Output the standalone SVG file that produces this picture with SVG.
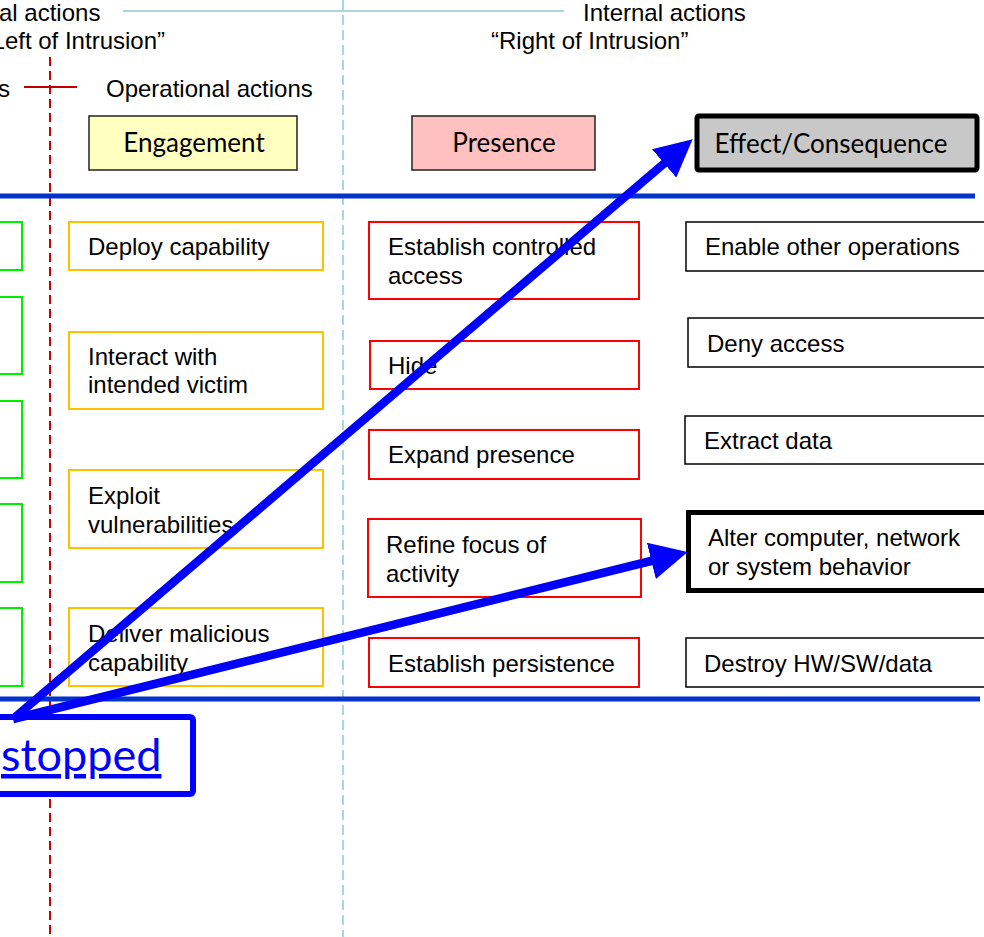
<svg xmlns="http://www.w3.org/2000/svg" width="984" height="937" viewBox="0 0 984 937">
<style>
.t{font-family:"Liberation Sans",Arial,sans-serif;font-size:24px;fill:#000}
.h{font-family:Lato,"Open Sans",sans-serif;font-size:26px;fill:#000;text-anchor:middle}
.g{fill:#fff;stroke:#00ee00;stroke-width:2}
.o{fill:#fff;stroke:#ffc000;stroke-width:2}
.r{fill:#fff;stroke:#ff0000;stroke-width:2}
.k{fill:#fff;stroke:#000;stroke-width:1.5}
.arr{fill:none;stroke:#0000ff;stroke-width:8.5;marker-end:url(#ah)}
</style>
<defs>
<marker id="ah" viewBox="0 0 10 10" refX="1" refY="5" markerWidth="4.4" markerHeight="4.4" markerUnits="strokeWidth" orient="auto">
<path d="M0,0 L10,5 L0,10 z" fill="#0000ff"/>
</marker>
</defs>
<rect width="984" height="937" fill="#fff"/>

<g id="guides">
<line x1="343" y1="0" x2="343" y2="937" stroke="#a9d7df" stroke-width="2" stroke-dasharray="10,5"/>
<line x1="50" y1="57" x2="50" y2="937" stroke="#cc0000" stroke-width="2" stroke-dasharray="9,5"/>
<line x1="123" y1="11" x2="564" y2="11" stroke="#a9d7df" stroke-width="2"/>
<line x1="24" y1="87" x2="77" y2="87" stroke="#c00000" stroke-width="2"/>
<line x1="0" y1="196" x2="975" y2="196" stroke="#0033cc" stroke-width="5"/>
<line x1="0" y1="699" x2="980" y2="699" stroke="#0033cc" stroke-width="5"/>
</g>

<g id="labels">
<text class="t" x="-1" y="21">al actions</text>
<text class="t" x="165" y="49" text-anchor="end">“Left of Intrusion”</text>
<text class="t" x="10" y="97" text-anchor="end">s</text>
<text class="t" x="106" y="97">Operational actions</text>
<text class="t" x="583" y="21">Internal actions</text>
<text class="t" x="491" y="49">“Right of Intrusion”</text>
</g>

<g id="hdr-engagement">
<rect x="89" y="116" width="208" height="54" fill="#ffffc0" stroke="#222" stroke-width="1.5"/>
<text class="h" x="194" y="152">Engagement</text>
</g>
<g id="hdr-presence">
<rect x="412" y="116" width="183" height="54" fill="#ffc0c0" stroke="#222" stroke-width="1.5"/>
<text class="h" x="504" y="152">Presence</text>
</g>
<g id="hdr-effect">
<rect x="697" y="116" width="280" height="54" rx="2" fill="#c8c8c8" stroke="#000" stroke-width="5"/>
<text class="h" x="831" y="153">Effect/Consequence</text>
</g>

<g id="prep-1"><rect class="g" x="-30" y="222" width="52" height="48"/></g>
<g id="prep-2"><rect class="g" x="-30" y="297" width="52" height="77"/></g>
<g id="prep-3"><rect class="g" x="-30" y="401" width="52" height="77"/></g>
<g id="prep-4"><rect class="g" x="-30" y="504" width="52" height="78"/></g>
<g id="prep-5"><rect class="g" x="-30" y="608" width="52" height="78"/></g>

<g id="eng-deploy"><rect class="o" x="69" y="222" width="254" height="48"/><text class="t" x="88" y="255">Deploy capability</text></g>
<g id="eng-interact"><rect class="o" x="69" y="332" width="254" height="77"/><text class="t" x="88" y="365">Interact with<tspan x="88" y="393">intended victim</tspan></text></g>
<g id="eng-exploit"><rect class="o" x="69" y="470" width="254" height="78"/><text class="t" x="88" y="504">Exploit<tspan x="88" y="533">vulnerabilities</tspan></text></g>
<g id="eng-deliver"><rect class="o" x="69" y="608" width="254" height="78"/><text class="t" x="88" y="642">Deliver malicious<tspan x="88" y="671">capability</tspan></text></g>

<g id="pres-access"><rect class="r" x="369" y="222" width="270" height="77"/><text class="t" x="388" y="255">Establish controlled<tspan x="388" y="284">access</tspan></text></g>
<g id="pres-hide"><rect class="r" x="370" y="341" width="269" height="48"/><text class="t" x="388" y="374">Hide</text></g>
<g id="pres-expand"><rect class="r" x="369" y="430" width="270" height="49"/><text class="t" x="388" y="463">Expand presence</text></g>
<g id="pres-refine"><rect class="r" x="368" y="519" width="273" height="78"/><text class="t" x="386" y="553">Refine focus of<tspan x="386" y="582">activity</tspan></text></g>
<g id="pres-persist"><rect class="r" x="369" y="638" width="270" height="49"/><text class="t" x="388" y="672">Establish persistence</text></g>

<g id="eff-enable"><rect class="k" x="686" y="222" width="320" height="49"/><text class="t" x="705" y="255">Enable other operations</text></g>
<g id="eff-deny"><rect class="k" x="688" y="318" width="320" height="49"/><text class="t" x="707" y="352">Deny access</text></g>
<g id="eff-extract"><rect class="k" x="685" y="416" width="320" height="48"/><text class="t" x="704" y="449">Extract data</text></g>
<g id="eff-alter"><rect x="688.5" y="512.5" width="320" height="78" fill="#fff" stroke="#000" stroke-width="5"/><text class="t" x="708" y="546">Alter computer, network<tspan x="708" y="575">or system behavior</tspan></text></g>
<g id="eff-destroy"><rect class="k" x="686" y="638" width="320" height="49"/><text class="t" x="704" y="672">Destroy HW/SW/data</text></g>

<g id="stopped">
<rect x="-10" y="717" width="203" height="77" rx="3" fill="#fff" stroke="#0000ff" stroke-width="6"/>
<text x="1" y="771" font-family="Lato,'Open Sans',sans-serif" font-size="45" fill="#0000ff" text-decoration="underline">stopped</text>
</g>

<g id="connectors">
<line class="arr" x1="13" y1="719" x2="667" y2="161"/>
<line class="arr" x1="13" y1="719" x2="655" y2="560"/>
</g>
</svg>
